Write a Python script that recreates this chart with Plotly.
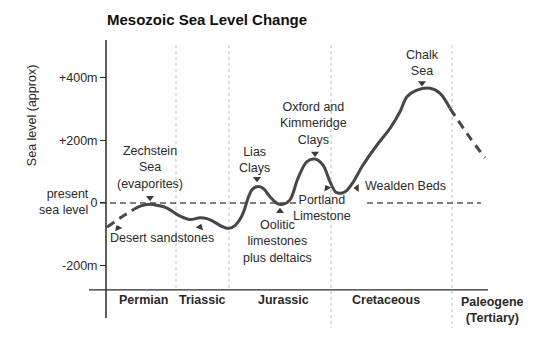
import plotly.graph_objects as go

# ---- data (x = position along the time axis, y = sea level in metres) ----
pos_lead = [107, 120, 134]
lvl_lead = [-77, -48, -20]

pos_main = [134, 141, 150, 158, 167, 180, 190, 200, 207, 214, 222, 229, 235,
            240, 244, 248, 252, 257, 263, 270, 277, 283, 290, 298, 307, 315,
            323, 330, 336, 341, 346, 353, 363, 377, 390, 400, 407, 417, 430,
            440, 450]
lvl_main = [-20, -9, -4, -8, -16, -42, -53, -47, -50, -60, -75, -81, -72,
            -52, -25, 15, 42, 52, 47, 20, -1, -4, 10, 79, 132, 140,
            121, 68, 34, 31, 38, 66, 121, 185, 238, 291, 339, 360, 366,
            350, 302]

pos_tail = [450, 468, 485]
lvl_tail = [302, 217, 144]

present_level_segments = [(100, 297), (367, 481)]

period_names = ["Permian", "Triassic", "Jurassic", "Cretaceous", "Paleogene<br>(Tertiary)"]
period_pos = [143, 202, 283, 386, 492]
period_lvl = [-309, -309, -309, -309, -341]
period_bounds = [176, 229, 331, 452]
period_bound_bottom = [-277, -277, -399, -399]

tick_vals = [400, 200, 0, -200]
tick_text = ["+400m", "+200m", "0", "-200m"]

labels = [
    ("Zechstein<br>Sea<br>(evaporites)", 150, 112, "center"),
    ("Desert sandstones", 162, -112, "center"),
    ("Lias<br>Clays", 254, 138, "center"),
    ("Oxford and<br>Kimmeridge<br>Clays", 313, 255, "center"),
    ("Oolitic<br>limestones<br>plus deltaics", 277, -124, "center"),
    ("Portland<br>Limestone", 322, -15, "center"),
    ("Wealden Beds", 363, 54, "left"),
    ("Chalk<br>Sea", 422, 445, "center"),
]
arrow_pos = [150, 118, 200, 257, 315, 280, 327, 357, 422]
arrow_lvl = [17, -80, -77, 77, 158, -26, 48, 48, 383]
arrow_sym = ["triangle-down", "triangle-up", "triangle-up", "triangle-down",
             "triangle-down", "triangle-up", "triangle-up", "triangle-left",
             "triangle-down"]
arrow_angle = [0, -25, 20, 0, 0, 0, -30, 0, 0]

# ---- figure ----
FONT = "Liberation Sans, Arial, Helvetica, sans-serif"
INK = "#2a2a2a"
CURVE = "#474747"
Y_TOP, Y_BOT = 647.5, -449.8

fig = go.Figure()

# period boundaries (dotted)
for xb, yb in zip(period_bounds, period_bound_bottom):
    fig.add_trace(go.Scatter(x=[xb, xb], y=[504, yb], mode="lines",
                             line=dict(color="#bdbdbd", width=1, dash="dot"),
                             hoverinfo="skip"))

# present sea level (dashed)
for x0, x1 in present_level_segments:
    fig.add_trace(go.Scatter(x=[x0, x1], y=[0, 0], mode="lines",
                             line=dict(color="#555555", width=1.4, dash="6px,4px"),
                             hoverinfo="skip"))

# sea level curve
fig.add_trace(go.Scatter(x=pos_lead, y=lvl_lead, mode="lines",
                         line=dict(color=CURVE, width=3, dash="9px,6px", shape="spline")))
fig.add_trace(go.Scatter(x=pos_main, y=lvl_main, mode="lines",
                         line=dict(color=CURVE, width=3, shape="spline", smoothing=1.0)))
fig.add_trace(go.Scatter(x=pos_tail, y=lvl_tail, mode="lines",
                         line=dict(color=CURVE, width=3, dash="9px,6px", shape="spline")))

# arrow heads
fig.add_trace(go.Scatter(x=arrow_pos, y=arrow_lvl, mode="markers",
                         marker=dict(symbol=arrow_sym, angle=arrow_angle, size=7,
                                     color="#3a3a3a"),
                         hoverinfo="skip"))

# axis lines
fig.add_shape(type="line", x0=106, x1=106, y0=520, y1=-367, xref="x", yref="y",
              line=dict(color=INK, width=1.5))
fig.add_shape(type="line", x0=89, x1=488, y0=-277, y1=-277, xref="x", yref="y",
              line=dict(color=INK, width=1.2))

annotations = []
for text, x, y, align in labels:
    annotations.append(dict(text=text, x=x, y=y, xref="x", yref="y",
                            showarrow=False, align=align,
                            xanchor="left" if align == "left" else "center",
                            yanchor="middle",
                            font=dict(family=FONT, size=12.5, color=INK)))
for name, x, y in zip(period_names, period_pos, period_lvl):
    annotations.append(dict(text="<b>" + name + "</b>", x=x, y=y, xref="x", yref="y",
                            showarrow=False, align="center", yanchor="middle",
                            font=dict(family=FONT, size=12.5, color=INK)))
annotations.append(dict(text="present<br>sea level", x=91, y=3, xref="x", yref="y",
                        showarrow=False, align="right", xanchor="right", yanchor="middle",
                        font=dict(family=FONT, size=12.5, color=INK)))
annotations.append(dict(text="Sea level (approx)", x=32, y=277, xref="x", yref="y",
                        showarrow=False, textangle=-90, xanchor="center", yanchor="middle",
                        font=dict(family=FONT, size=12.5, color=INK)))

fig.update_layout(
    width=550, height=344,
    margin=dict(l=0, r=0, t=0, b=0),
    paper_bgcolor="white", plot_bgcolor="white",
    showlegend=False,
    title=dict(text="<b>Mesozoic Sea Level Change</b>", x=107 / 550, xref="paper",
               xanchor="left", y=1 - 20 / 344, yref="paper", yanchor="middle",
               font=dict(family=FONT, size=15, color="#111111")),
    xaxis=dict(range=[0, 550], domain=[0, 1], visible=False, fixedrange=True),
    yaxis=dict(range=[Y_BOT, Y_TOP], domain=[0, 1], anchor="free", position=106 / 550,
               showgrid=False, zeroline=False, showline=False,
               tickmode="array", tickvals=tick_vals, ticktext=tick_text,
               ticks="outside", ticklen=6, tickwidth=1.2, tickcolor=INK,
               tickfont=dict(family=FONT, size=12.5, color=INK), fixedrange=True),
    annotations=annotations,
)

fig.write_html("out.html")
